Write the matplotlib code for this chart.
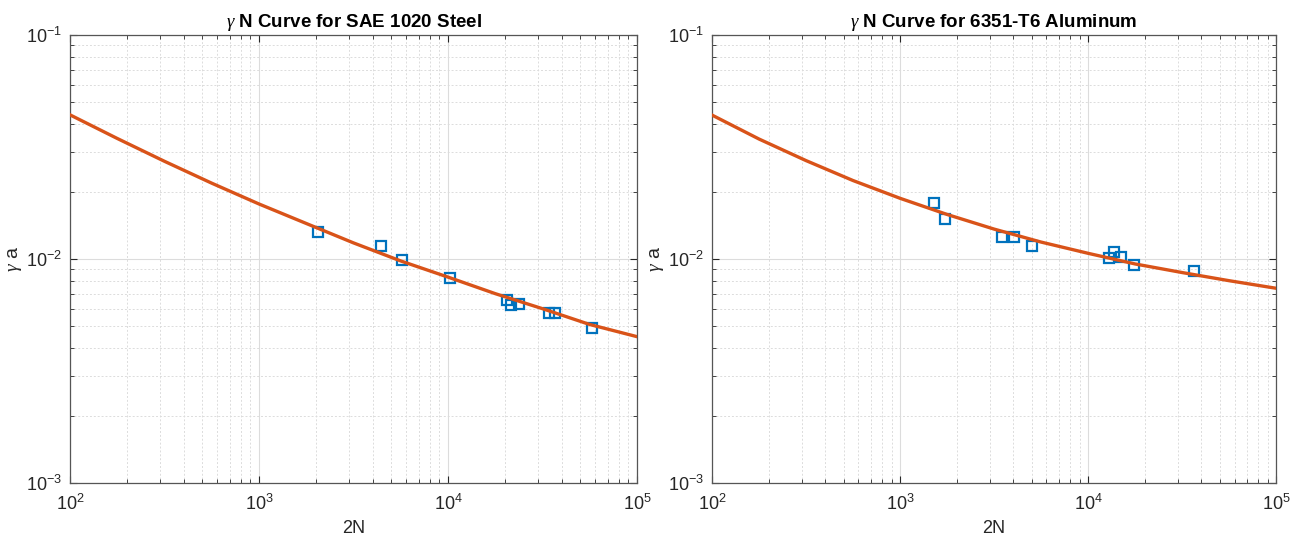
import numpy as np
import matplotlib
matplotlib.use("Agg")
import matplotlib.pyplot as plt
from matplotlib.ticker import LogLocator, NullFormatter

plt.rcParams['font.family'] = ['Liberation Sans', 'DejaVu Sans']
plt.rcParams['mathtext.fontset'] = 'custom'
plt.rcParams['mathtext.rm'] = 'Liberation Sans'
plt.rcParams['mathtext.it'] = 'Liberation Serif:italic'

# steel test points (2N, gamma_a)
steel_2n = [2060, 4430, 5700, 10250, 20500, 21400, 23600, 34000, 36900, 57400]
steel_ga = [0.0132, 0.01143, 0.00987, 0.0082, 0.00654, 0.00624, 0.00628, 0.00574, 0.00574, 0.00494]

# aluminum test points
alum_2n = [1516, 1722, 3500, 4040, 5010, 12880, 13650, 14990, 17630, 36700]
alum_ga = [0.01775, 0.01503, 0.01259, 0.01259, 0.01143, 0.01013, 0.01074, 0.01021, 0.00937, 0.00884]

# fitted curves, read at quarter decades
curve_2n = [1e2, 1.78e2, 3.16e2, 5.62e2, 1e3, 1.78e3, 3.16e3, 5.62e3,
            1e4, 1.78e4, 3.16e4, 5.62e4, 1e5]
steel_fit = [0.0440, 0.0345, 0.0273, 0.0218, 0.0176, 0.0144, 0.0118, 0.0098,
             0.0083, 0.0070, 0.0060, 0.0051, 0.0045]
alum_fit = [0.0439, 0.0343, 0.0275, 0.0224, 0.01866, 0.0158, 0.0136, 0.0119,
            0.0106, 0.0095, 0.0087, 0.0080, 0.0074]

titles = [r'$\gamma$ N Curve for SAE 1020 Steel', r'$\gamma$ N Curve for 6351-T6 Aluminum']

fig = plt.figure(figsize=(13.02, 5.42), dpi=100)
ax1 = fig.add_axes([0.0538, 0.1089, 0.4355, 0.8265])
ax2 = fig.add_axes([0.5469, 0.1089, 0.4333, 0.8265])

for ax, xs, ys, fit, title in [(ax1, steel_2n, steel_ga, steel_fit, titles[0]),
                               (ax2, alum_2n, alum_ga, alum_fit, titles[1])]:
    ax.set_xscale('log')
    ax.set_yscale('log')
    ax.plot(xs, ys, 's', mfc='none', mec='#0072BD', ms=7.5, mew=1.6, zorder=3)
    ax.plot(curve_2n, fit, '-', color='#D95319', lw=2.4, zorder=4)
    ax.set_xlim(1e2, 1e5)
    ax.set_ylim(1e-3, 1e-1)
    ax.xaxis.set_major_locator(LogLocator(base=10, numticks=10))
    ax.yaxis.set_major_locator(LogLocator(base=10, numticks=10))
    ax.xaxis.set_minor_locator(LogLocator(base=10, subs=np.arange(2, 10), numticks=20))
    ax.yaxis.set_minor_locator(LogLocator(base=10, subs=np.arange(2, 10), numticks=20))
    ax.xaxis.set_minor_formatter(NullFormatter())
    ax.yaxis.set_minor_formatter(NullFormatter())
    ax.grid(True, which='major', color='#dcdcdc', lw=0.8, ls='-')
    ax.grid(True, which='minor', color='#dcdcdc', lw=0.7, ls=(0, (2, 2)))
    ax.set_axisbelow(True)
    ax.tick_params(which='both', direction='in', top=True, right=True,
                   colors='#262626', labelsize=13)
    ax.tick_params(axis='x', which='major', pad=8)
    ax.tick_params(axis='y', which='major', pad=6)
    ax.tick_params(which='major', length=5, width=0.8)
    ax.tick_params(which='minor', length=3, width=0.6)
    for s in ax.spines.values():
        s.set_color('#555555')
        s.set_linewidth(0.9)
    ax.set_title(title, fontsize=13.5, fontweight='bold', color='black', pad=6)
    ax.set_xlabel('2N', fontsize=13, color='#262626', labelpad=4)
    ax.set_ylabel(r'$\gamma$ a', fontsize=14, color='#262626', labelpad=1)

fig.savefig('out.png', dpi=100)
